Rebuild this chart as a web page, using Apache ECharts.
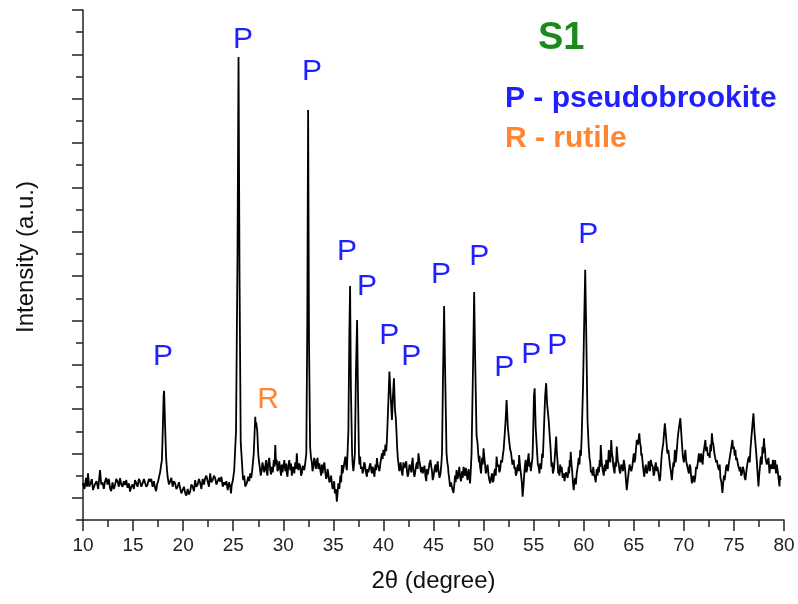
<!DOCTYPE html>
<html>
<head>
<meta charset="utf-8">
<title>XRD S1</title>
<script src="https://cdn.jsdelivr.net/npm/echarts@6/dist/echarts.min.js"></script>
<style>
  html, body { margin: 0; padding: 0; background: #fff; }
  #main { width: 798px; height: 604px; }
</style>
</head>
<body>
<div id="main"></div>
<script>
// scan: [2theta (degree), intensity (a.u., one minor y tick = 100)]
var scan = [
  [10.0,167],[10.15,140],[10.3,190],[10.4,150],[10.5,210],[10.62,150],[10.75,165],[10.88,185],
  [11.0,135],[11.18,160],[11.35,175],[11.52,140],[11.7,225],[11.82,160],[11.95,170],[12.08,140],
  [12.2,173],[12.32,190],[12.45,160],[12.58,185],[12.7,144],[12.82,130],[12.95,170],[13.08,140],
  [13.2,158],[13.32,185],[13.45,175],[13.58,150],[13.7,189],[13.82,160],[13.95,150],[14.08,175],
  [14.2,158],[14.32,180],[14.45,145],[14.58,165],[14.7,128],[14.82,150],[14.95,160],[15.08,140],
  [15.2,180],[15.32,165],[15.45,150],[15.58,185],[15.7,173],[15.82,150],[15.95,165],[16.08,185],
  [16.2,189],[16.32,150],[16.45,160],[16.58,185],[16.7,173],[16.82,185],[16.95,150],[17.08,175],
  [17.2,144],[17.3,130],[17.4,160],[17.5,175],[17.6,195],[17.7,215],[17.8,248],[17.88,270],
  [17.95,376],[18.05,560],[18.1,583],[18.2,420],[18.3,280],[18.38,230],[18.45,195],[18.58,160],
  [18.7,173],[18.82,190],[18.95,150],[19.08,175],[19.2,165],[19.32,140],[19.45,150],[19.58,170],
  [19.7,144],[19.82,120],[19.95,135],[20.08,150],[20.2,122],[20.32,110],[20.45,140],[20.58,115],
  [20.7,128],[20.82,160],[20.95,150],[21.08,130],[21.2,180],[21.32,150],[21.45,160],[21.58,185],
  [21.7,167],[21.82,140],[21.95,185],[22.08,160],[22.2,189],[22.32,200],[22.45,175],[22.58,150],
  [22.7,210],[22.82,170],[22.95,180],[23.08,200],[23.2,189],[23.32,160],[23.45,165],[23.58,190],
  [23.7,173],[23.82,195],[23.95,150],[24.08,170],[24.2,158],[24.32,175],[24.45,135],[24.58,170],
  [24.7,150],[24.78,120],[24.85,158],[24.97,180],[25.1,225],[25.28,400],[25.43,1200],[25.53,2088],
  [25.63,1100],[25.75,350],[25.9,240],[25.95,200],[26.0,180],[26.1,200],[26.2,151],[26.35,165],
  [26.5,195],[26.6,175],[26.7,210],[26.8,190],[26.9,225],[27.05,300],[27.2,465],[27.25,420],
  [27.3,440],[27.4,400],[27.5,300],[27.58,260],[27.65,240],[27.75,200],[27.85,225],[27.92,260],
  [28.0,255],[28.1,215],[28.2,240],[28.28,270],[28.35,215],[28.42,200],[28.5,256],[28.6,280],
  [28.7,225],[28.78,205],[28.85,240],[28.95,215],[29.05,270],[29.12,240],[29.2,338],[29.28,250],
  [29.35,271],[29.42,220],[29.5,230],[29.6,265],[29.7,225],[29.78,200],[29.85,250],[29.92,215],
  [30.0,240],[30.1,270],[30.2,220],[30.28,255],[30.35,210],[30.42,195],[30.5,245],[30.6,270],
  [30.7,225],[30.78,255],[30.85,200],[30.92,225],[31.0,240],[31.1,210],[31.2,260],[31.28,230],
  [31.35,301],[31.42,250],[31.5,225],[31.6,255],[31.7,240],[31.78,200],[31.85,210],[31.95,245],
  [32.1,225],[32.2,260],[32.3,301],[32.4,900],[32.48,1849],[32.57,800],[32.68,329],[32.77,280],
  [32.85,260],[32.92,220],[33.0,240],[33.08,280],[33.15,270],[33.25,230],[33.35,263],[33.42,280],
  [33.5,230],[33.6,255],[33.7,225],[33.78,200],[33.85,250],[33.92,210],[34.0,240],[34.1,260],
  [34.2,215],[34.28,185],[34.35,195],[34.42,230],[34.5,210],[34.6,170],[34.7,180],[34.78,200],
  [34.85,165],[34.92,140],[35.0,151],[35.08,175],[35.15,120],[35.25,140],[35.35,83],[35.42,120],
  [35.5,165],[35.6,140],[35.7,200],[35.78,170],[35.85,248],[35.92,210],[36.0,230],[36.1,260],
  [36.2,286],[36.28,240],[36.35,225],[36.5,400],[36.6,850],[36.67,1055],[36.75,600],[36.87,301],
  [36.93,250],[37.0,220],[37.08,260],[37.15,300],[37.25,650],[37.37,902],[37.45,600],[37.55,300],
  [37.6,250],[37.67,286],[37.75,230],[37.85,240],[37.92,210],[38.0,225],[38.08,260],[38.15,250],
  [38.25,215],[38.35,195],[38.42,230],[38.5,215],[38.6,240],[38.7,256],[38.78,225],[38.85,210],
  [38.92,240],[39.0,225],[39.1,195],[39.2,250],[39.28,225],[39.35,279],[39.42,250],[39.5,240],
  [39.6,220],[39.7,256],[39.78,280],[39.85,300],[39.92,275],[40.0,316],[40.1,290],[40.2,340],
  [40.28,310],[40.35,361],[40.48,520],[40.6,669],[40.72,560],[40.85,451],[40.95,560],[41.05,639],
  [41.15,500],[41.25,451],[41.38,320],[41.45,270],[41.5,256],[41.58,220],[41.65,240],[41.72,260],
  [41.8,225],[41.9,200],[42.0,260],[42.1,235],[42.2,240],[42.28,265],[42.35,220],[42.42,195],
  [42.5,210],[42.6,250],[42.7,240],[42.78,215],[42.85,256],[42.92,280],[43.0,220],[43.1,195],
  [43.2,225],[43.28,250],[43.35,260],[43.42,230],[43.5,301],[43.58,270],[43.65,250],[43.75,215],
  [43.85,240],[43.92,210],[44.0,215],[44.1,245],[44.2,195],[44.28,175],[44.35,230],[44.42,205],
  [44.5,225],[44.6,255],[44.7,271],[44.78,240],[44.85,220],[44.92,180],[45.0,195],[45.1,230],
  [45.2,250],[45.28,215],[45.35,240],[45.42,265],[45.5,220],[45.6,190],[45.7,210],[45.78,250],
  [45.85,301],[45.95,650],[46.06,965],[46.15,700],[46.3,301],[46.38,260],[46.45,240],[46.5,210],
  [46.55,195],[46.65,150],[46.75,170],[46.88,140],[47.0,122],[47.08,160],[47.15,200],[47.22,170],
  [47.3,225],[47.4,185],[47.5,210],[47.58,240],[47.65,195],[47.75,175],[47.85,220],[47.92,190],
  [48.0,240],[48.08,210],[48.15,200],[48.22,235],[48.3,210],[48.4,180],[48.5,230],[48.58,200],
  [48.65,165],[48.72,220],[48.8,301],[48.95,700],[49.06,1028],[49.15,750],[49.3,380],[49.4,346],
  [49.48,290],[49.55,260],[49.6,290],[49.65,240],[49.75,210],[49.85,280],[49.92,250],[50.0,323],
  [50.08,280],[50.15,250],[50.22,210],[50.3,225],[50.4,250],[50.5,200],[50.58,180],[50.65,165],
  [50.75,190],[50.85,210],[50.92,170],[51.0,180],[51.08,220],[51.15,230],[51.22,200],[51.3,286],
  [51.4,240],[51.5,250],[51.58,215],[51.65,225],[51.75,270],[51.85,260],[51.92,290],[52.0,316],
  [52.1,380],[52.2,450],[52.3,541],[52.42,420],[52.55,360],[52.65,320],[52.75,301],[52.88,250],
  [53.0,271],[53.08,230],[53.15,240],[53.22,200],[53.3,210],[53.38,240],[53.45,250],[53.5,220],
  [53.55,293],[53.65,240],[53.75,200],[53.82,170],[53.9,105],[53.98,150],[54.05,200],[54.12,240],
  [54.2,271],[54.28,215],[54.35,230],[54.42,270],[54.5,301],[54.58,240],[54.65,260],[54.72,220],
  [54.8,225],[54.88,280],[54.93,350],[55.03,560],[55.1,594],[55.2,420],[55.35,301],[55.42,250],
  [55.5,240],[55.58,210],[55.65,256],[55.75,230],[55.85,300],[55.92,280],[56.0,376],[56.15,560],
  [56.25,617],[56.35,520],[56.5,451],[56.7,316],[56.78,240],[56.85,260],[56.92,210],[57.0,225],
  [57.06,250],[57.12,290],[57.25,376],[57.32,300],[57.4,260],[57.45,210],[57.5,225],[57.58,200],
  [57.65,250],[57.72,215],[57.8,240],[57.9,190],[58.0,210],[58.08,175],[58.15,180],[58.22,215],
  [58.3,220],[58.4,190],[58.5,240],[58.55,210],[58.6,270],[58.65,240],[58.7,308],[58.78,250],
  [58.85,220],[58.92,170],[59.0,135],[59.08,175],[59.15,190],[59.22,160],[59.3,210],[59.4,240],
  [59.5,280],[59.58,250],[59.65,316],[59.72,290],[59.8,380],[59.93,600],[60.05,900],[60.15,1128],
  [60.25,850],[60.38,450],[60.5,329],[60.58,280],[60.65,260],[60.72,215],[60.8,225],[60.88,200],
  [60.95,240],[61.02,210],[61.1,195],[61.2,170],[61.3,230],[61.38,200],[61.45,240],[61.52,215],
  [61.6,270],[61.65,240],[61.7,338],[61.8,260],[61.9,225],[62.0,200],[62.1,250],[62.18,220],
  [62.25,271],[62.32,240],[62.4,230],[62.45,270],[62.5,316],[62.58,280],[62.65,260],[62.7,300],
  [62.75,361],[62.82,300],[62.9,280],[62.95,245],[63.0,240],[63.08,210],[63.15,260],[63.22,240],
  [63.3,331],[63.4,270],[63.5,250],[63.58,220],[63.65,210],[63.75,250],[63.85,240],[63.92,220],
  [64.0,271],[64.08,250],[64.15,220],[64.22,180],[64.3,135],[64.4,180],[64.5,220],[64.58,250],
  [64.65,256],[64.75,220],[64.85,240],[64.92,270],[65.0,301],[65.08,260],[65.15,280],[65.22,320],
  [65.3,361],[65.42,340],[65.55,391],[65.62,350],[65.7,330],[65.75,290],[65.8,301],[65.92,240],
  [66.05,195],[66.12,230],[66.2,250],[66.3,210],[66.4,225],[66.48,265],[66.55,250],[66.62,220],
  [66.7,271],[66.8,250],[66.9,240],[66.98,200],[67.05,210],[67.12,240],[67.2,260],[67.28,220],
  [67.35,240],[67.42,225],[67.5,200],[67.58,175],[67.65,195],[67.72,250],[67.8,300],[67.95,350],
  [68.1,436],[68.25,360],[68.35,300],[68.45,316],[68.6,250],[68.7,220],[68.8,180],[68.88,220],
  [68.95,260],[69.02,240],[69.1,316],[69.18,260],[69.25,290],[69.32,330],[69.4,376],[69.52,420],
  [69.65,459],[69.8,350],[69.9,286],[70.0,260],[70.08,290],[70.15,316],[70.22,270],[70.3,250],
  [70.4,230],[70.5,210],[70.58,250],[70.65,240],[70.72,200],[70.8,165],[70.88,190],[70.95,200],
  [71.05,170],[71.15,195],[71.22,240],[71.3,230],[71.4,260],[71.5,301],[71.58,270],[71.65,260],
  [71.72,300],[71.8,271],[71.88,250],[71.95,300],[72.05,330],[72.15,361],[72.22,310],[72.3,330],
  [72.4,290],[72.5,301],[72.58,280],[72.65,340],[72.72,310],[72.8,391],[72.88,350],[72.95,340],
  [73.05,300],[73.15,301],[73.22,260],[73.3,270],[73.4,240],[73.5,225],[73.58,250],[73.65,190],
  [73.75,170],[73.85,122],[73.92,160],[74.0,200],[74.08,180],[74.15,210],[74.22,240],[74.3,250],
  [74.4,220],[74.5,256],[74.58,280],[74.65,300],[74.75,330],[74.85,361],[74.92,320],[75.0,330],
  [75.08,290],[75.15,316],[75.22,270],[75.3,280],[75.4,250],[75.5,256],[75.58,220],[75.65,240],
  [75.72,200],[75.8,210],[75.9,240],[76.0,220],[76.08,190],[76.15,180],[76.22,210],[76.3,240],
  [76.4,270],[76.5,286],[76.58,260],[76.65,320],[76.75,376],[76.87,440],[76.95,481],[77.05,400],
  [77.2,316],[77.28,270],[77.35,220],[77.45,151],[77.52,200],[77.6,240],[77.65,270],[77.7,286],
  [77.78,250],[77.85,330],[77.92,300],[78.0,368],[78.05,330],[78.1,320],[78.15,280],[78.2,286],
  [78.28,250],[78.35,250],[78.45,280],[78.55,210],[78.62,240],[78.7,250],[78.8,230],[78.9,271],
  [78.98,230],[79.05,240],[79.12,270],[79.2,210],[79.28,250],[79.35,230],[79.45,190],[79.55,151],
  [79.6,200],[79.65,180]
];

// peak markers: phase letter and where it is written (2theta, intensity)
var peakText = ['P', 'P', 'P', 'P', 'P', 'P', 'P', 'P', 'P', 'P', 'P', 'P', 'P', 'R'];
var peakTextX = [17.99, 25.98, 32.88, 36.37, 38.37, 40.57, 42.77, 45.76, 49.56, 52.06, 54.75, 57.35, 60.45, 28.48];
var peakTextY = [735, 2165, 2020, 1209, 1051, 830, 735, 1105, 1186, 686, 744, 785, 1285, 541];

var xTicks = [10, 80, 5];          // min, max, step
var yTickIndex = [];               // 24 tick positions on the intensity axis
for (var i = 0; i <= 23; i++) yTickIndex.push(String(i));

var phaseColor = { P: '#1f1fff', R: '#ff8533' };

var chart = echarts.init(document.getElementById('main'));

var labelData = [];
for (var i = 0; i < peakText.length; i++) {
    labelData.push({
        value: [peakTextX[i], peakTextY[i]],
        label: { formatter: peakText[i], color: phaseColor[peakText[i]] }
    });
}

var axisColor = '#222';
var font = 'Liberation Sans, Arial, sans-serif';

var option = {
    animation: false,
    backgroundColor: '#fff',
    grid: { left: 83, right: 14, top: 10, bottom: 84 },
    xAxis: {
        type: 'value',
        min: xTicks[0], max: xTicks[1], interval: xTicks[2],
        name: '2θ (degree)',
        nameLocation: 'middle',
        nameGap: 49,
        nameTextStyle: { fontFamily: font, fontSize: 24, color: '#111' },
        axisLine: { lineStyle: { color: axisColor, width: 1.5 } },
        axisTick: { length: 11, lineStyle: { color: axisColor, width: 1.5 } },
        minorTick: { show: true, splitNumber: 2, length: 7, lineStyle: { color: axisColor, width: 1.5 } },
        axisLabel: { fontFamily: font, fontSize: 19, color: '#222', margin: 16 },
        splitLine: { show: false }
    },
    yAxis: [{
        type: 'value',
        min: 0, max: 2300, interval: 100,
        name: 'Intensity (a.u.)',
        nameLocation: 'middle',
        nameGap: 45,
        nameTextStyle: { fontFamily: font, fontSize: 24, color: '#111', padding: [0, 0, 0, 16] },
        axisLine: { show: true, lineStyle: { color: axisColor, width: 1.5 } },
        axisTick: { show: true, length: 7, lineStyle: { color: axisColor, width: 1.5 } },
        axisLabel: { show: false },
        splitLine: { show: false }
    }, {
        type: 'category',
        data: yTickIndex,
        boundaryGap: false,
        position: 'left',
        axisLine: { show: false },
        axisTick: {
            show: true, length: 11,
            interval: function (index) { return index % 2 === 1; },
            lineStyle: { color: axisColor, width: 1.5 }
        },
        axisLabel: { show: false },
        splitLine: { show: false }
    }],
    series: [{
        type: 'line',
        data: scan,
        showSymbol: false,
        symbol: 'none',
        lineStyle: { color: '#000', width: 1.8 },
        z: 3
    }, {
        type: 'scatter',
        data: labelData,
        symbolSize: 0,
        itemStyle: { opacity: 1 },
        label: {
            show: true, position: 'inside', opacity: 1,
            fontFamily: font, fontSize: 30
        },
        emphasis: { disabled: true },
        z: 4
    }],
    graphic: [{
        type: 'text', left: 538, top: 20,
        style: { text: 'S1', fontFamily: font, fontSize: 38, fontWeight: 'bold', fill: '#1b8a1b' }
    }, {
        type: 'text', left: 505, top: 84,
        style: { text: 'P - pseudobrookite', fontFamily: font, fontSize: 30, fontWeight: 'bold', fill: '#1f1fff' }
    }, {
        type: 'text', left: 505, top: 124,
        style: { text: 'R - rutile', fontFamily: font, fontSize: 30, fontWeight: 'bold', fill: '#ff8533' }
    }]
};

chart.setOption(option);
</script>
</body>
</html>
